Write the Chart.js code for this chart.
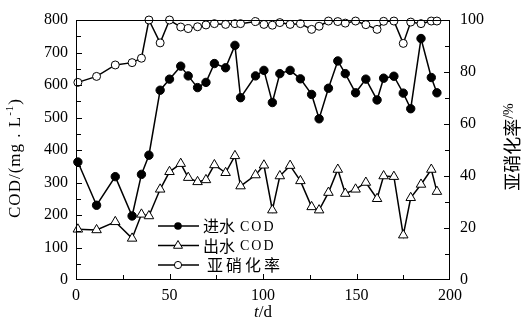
<!DOCTYPE html>
<html><head><meta charset="utf-8">
<script src="https://cdn.jsdelivr.net/npm/chart.js@4.4.0/dist/chart.umd.min.js"></script>
<style>html,body{margin:0;padding:0;background:#fff;}#wrap{width:524px;height:323px;}</style>
</head><body><div id="wrap"><canvas id="c" width="524" height="323"></canvas></div>
<script>
const days = [1, 11, 21, 30, 35, 39, 45, 50, 56, 60, 65, 69.5, 74, 80, 85, 88, 96, 100.5, 105, 109, 114.5, 120, 126, 130, 135, 140, 144, 149.5, 155, 161, 164.5, 170, 175, 179, 184.5, 190, 193];
const influentCOD = [363, 230, 318, 197, 325, 384, 584, 618, 658, 628, 592, 608, 666, 653, 722, 561, 628, 645, 546, 635, 645, 619, 571, 496, 590, 674, 635, 576, 618, 554, 621, 627, 575, 527, 743, 623, 576];
const effluentCOD = [156, 154, 179, 128, 202, 197, 279, 333, 358, 315, 302, 308, 354, 330, 382, 289, 323, 353, 215, 320, 352, 305, 225, 215, 269, 340, 266, 279, 300, 250, 320, 318, 138, 253, 294, 340, 272];
const nitriteRate = [76, 78.3, 82.7, 83.6, 85.3, 100, 91.2, 100, 97.3, 96.7, 97.4, 98.1, 98.6, 98.3, 98.6, 98.6, 99.4, 98.3, 98, 99, 98.3, 98.6, 96.4, 97.6, 99.6, 99.4, 98.8, 99.6, 98.2, 96.4, 99.5, 99.6, 91, 99.2, 98.6, 99.6, 99.6];
const seriesNames = ['进水', '出水', '亚硝化率'];
const xTitle = ['t', '/d'];
const leftTitle = 'COD/(mg . L';
const rightTitle = ['亚硝化率', '/%'];

const pts = arr => arr.map((v, i) => ({x: days[i], y: v}));
const SERIF = '"Liberation Serif", "Times New Roman", serif';
const CJK = '"Noto Sans CJK SC", sans-serif';

const decor = {
  id: 'decor',
  afterDraw(chart) {
    const ctx = chart.ctx, a = chart.chartArea;
    const sx = chart.scales.x, sy = chart.scales.y, sr = chart.scales.y1;
    ctx.save();
    ctx.strokeStyle = '#000'; ctx.lineWidth = 1;
    ctx.strokeRect(a.left + 0.5, a.top + 0.5, a.right - a.left - 1, a.bottom - a.top - 1);
    ctx.beginPath();
    for (let v = 25; v < 200; v += 25) {
      const px = Math.round(sx.getPixelForValue(v)) + 0.5;
      const len = v % 50 === 0 ? 6 : 5;
      ctx.moveTo(px, a.bottom); ctx.lineTo(px, a.bottom - len);
    }
    for (let v = 50; v < 800; v += 50) {
      const py = Math.round(sy.getPixelForValue(v)) + 0.5;
      const len = v % 100 === 0 ? 6 : 5;
      ctx.moveTo(a.left, py); ctx.lineTo(a.left + len, py);
    }
    for (let v = 10; v < 100; v += 10) {
      const py = Math.round(sr.getPixelForValue(v)) + 0.5;
      const len = v % 20 === 0 ? 6 : 5;
      ctx.moveTo(a.right, py); ctx.lineTo(a.right - len, py);
    }
    ctx.stroke();

    // legend
    const rows = [226, 245.5, 265];
    const ds = chart.data.datasets;
    ctx.fillStyle = '#000';
    rows.forEach((ry, i) => {
      ctx.beginPath(); ctx.lineWidth = 1.5;
      ctx.moveTo(158, ry); ctx.lineTo(199, ry); ctx.stroke();
      ctx.lineWidth = 1;
      ctx.beginPath();
      if (i === 0) { ctx.arc(178, ry, 3.8, 0, Math.PI * 2); ctx.fillStyle = '#000'; ctx.fill(); }
      else if (i === 1) {
        const r = 5; ctx.moveTo(178, ry - r); ctx.lineTo(178 + r * 0.9, ry + r * 0.55); ctx.lineTo(178 - r * 0.9, ry + r * 0.55); ctx.closePath();
        ctx.fillStyle = '#fff'; ctx.fill(); ctx.stroke();
      } else { ctx.arc(178, ry, 3.6, 0, Math.PI * 2); ctx.fillStyle = '#fff'; ctx.fill(); ctx.stroke(); }
      ctx.fillStyle = '#000'; ctx.textBaseline = 'middle'; ctx.textAlign = 'left';
      if (i < 2) {
        ctx.font = '16px ' + CJK; ctx.letterSpacing = '0px';
        ctx.fillText(seriesNames[i], 203, ry);
        ctx.font = '14px ' + SERIF; ctx.letterSpacing = '2px';
        ctx.fillText('COD', 240, ry + 1);
      } else {
        ctx.font = '16px ' + CJK; ctx.letterSpacing = '3px';
        ctx.fillText(seriesNames[2], 207, ry);
      }
    });
    ctx.letterSpacing = '0px';

    // x title
    ctx.textBaseline = 'middle';
    ctx.font = 'italic 17px ' + SERIF;
    const w1 = ctx.measureText(xTitle[0]).width;
    ctx.font = '17px ' + SERIF;
    const w2 = ctx.measureText(xTitle[1]).width;
    let x0 = 263 - (w1 + w2) / 2;
    ctx.textAlign = 'left';
    ctx.font = 'italic 17px ' + SERIF; ctx.fillText(xTitle[0], x0, 313);
    ctx.font = '17px ' + SERIF; ctx.fillText(xTitle[1], x0 + w1, 313);

    // left title
    ctx.save();
    ctx.translate(16, 158); ctx.rotate(-Math.PI / 2);
    ctx.font = '17px ' + SERIF; ctx.letterSpacing = '1px';
    const lw = ctx.measureText(leftTitle).width;
    ctx.font = '11px ' + SERIF;
    const sw = ctx.measureText('-1').width;
    ctx.font = '17px ' + SERIF;
    const pw = ctx.measureText(')').width;
    let lx = -(lw + sw + pw) / 2;
    ctx.fillText(leftTitle, lx, 0);
    ctx.font = '11px ' + SERIF; ctx.fillText('-1', lx + lw, -6);
    ctx.font = '17px ' + SERIF; ctx.fillText(')', lx + lw + sw, 0);
    ctx.restore();

    // right title
    ctx.save();
    ctx.translate(512, 147); ctx.rotate(-Math.PI / 2);
    ctx.font = '18px ' + CJK;
    const rw1 = ctx.measureText(rightTitle[0]).width;
    ctx.font = '14px ' + SERIF;
    const rw2 = ctx.measureText(rightTitle[1]).width;
    let rx = -(rw1 + rw2) / 2;
    ctx.font = '18px ' + CJK; ctx.fillText(rightTitle[0], rx, 0);
    ctx.font = '14px ' + SERIF; ctx.fillText(rightTitle[1], rx + rw1, -3);
    ctx.restore();
    ctx.restore();
  }
};

const tickFont = {family: SERIF, size: 16};
new Chart(document.getElementById('c'), {
  type: 'line',
  data: {
    datasets: [
      {label: '进水COD', data: pts(influentCOD), yAxisID: 'y', borderColor: '#000', borderWidth: 1.5,
       pointStyle: 'circle', pointRadius: 4.2, pointBackgroundColor: '#000', pointBorderColor: '#000', pointBorderWidth: 1, tension: 0, clip: false},
      {label: '出水COD', data: pts(effluentCOD), yAxisID: 'y', borderColor: '#000', borderWidth: 1.5,
       pointStyle: 'triangle', pointRadius: 5.5, pointBackgroundColor: '#fff', pointBorderColor: '#000', pointBorderWidth: 1, tension: 0, clip: false},
      {label: '亚硝化率', data: pts(nitriteRate), yAxisID: 'y1', borderColor: '#000', borderWidth: 1.5,
       pointStyle: 'circle', pointRadius: 4, pointBackgroundColor: '#fff', pointBorderColor: '#000', pointBorderWidth: 1, tension: 0, clip: false}
    ]
  },
  options: {
    responsive: false, animation: false, devicePixelRatio: 1,
    layout: {padding: {top: 20, left: 0, right: 0, bottom: 0}},
    plugins: {legend: {display: false}, tooltip: {enabled: false}},
    scales: {
      x: {type: 'linear', min: 0, max: 200,
          ticks: {stepSize: 50, font: tickFont, color: '#000', padding: 6, maxRotation: 0},
          grid: {display: false, drawTicks: false}, border: {display: false},
          afterFit: s => { s.height = 43; }},
      y: {type: 'linear', position: 'left', min: 0, max: 800,
          ticks: {stepSize: 100, font: tickFont, color: '#000', padding: 8},
          grid: {display: false, drawTicks: false}, border: {display: false},
          afterFit: s => { s.width = 76; }},
      y1: {type: 'linear', position: 'right', min: 0, max: 100,
          ticks: {stepSize: 20, font: tickFont, color: '#000', padding: 10},
          grid: {display: false, drawTicks: false}, border: {display: false},
          afterFit: s => { s.width = 74; }}
    }
  },
  plugins: [decor]
});
</script></body></html>
